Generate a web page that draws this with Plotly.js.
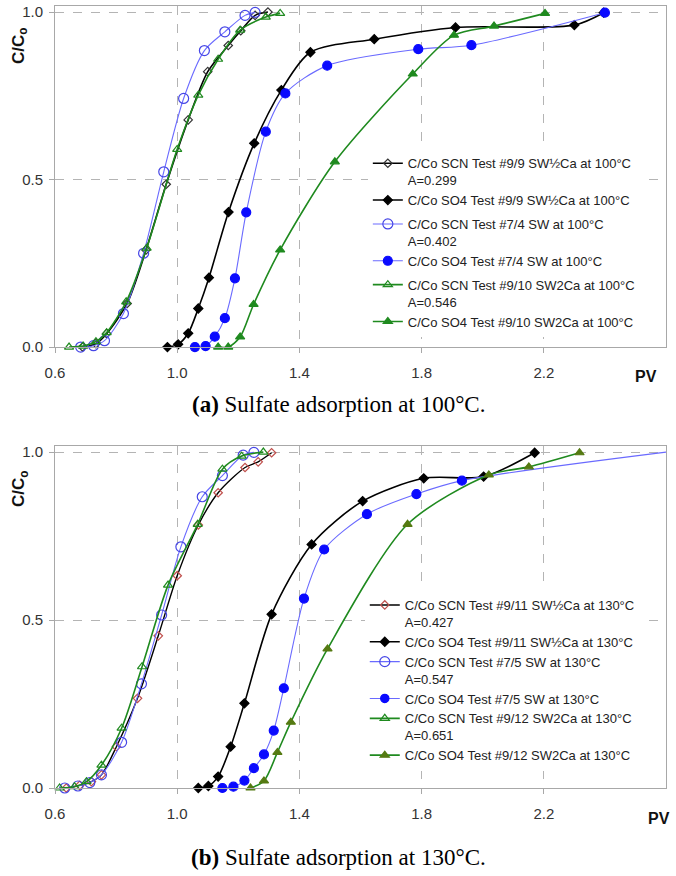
<!DOCTYPE html>
<html>
<head>
<meta charset="utf-8">
<script src="https://cdn.plot.ly/plotly-3.0.1.min.js"></script>
<style>html,body{margin:0;padding:0;background:#fff;}#chart{width:676px;height:876px;}</style>
</head>
<body>
<div id="chart"></div>
<script>
// ---------- Data: (a) 100°C ----------
var a_scn99_x = [0.69, 0.734, 0.769, 0.836, 0.898, 0.964, 1.036, 1.10, 1.167, 1.208, 1.255, 1.297];
var a_scn99_y = [0, 0.01, 0.04, 0.13, 0.29, 0.486, 0.678, 0.822, 0.90, 0.944, 0.99, 1.0];
var a_so499_x = [0.968, 1.003, 1.036, 1.069, 1.104, 1.168, 1.252, 1.341, 1.436, 1.645, 1.911, 2.30, 2.396];
var a_so499_y = [0, 0.008, 0.041, 0.115, 0.207, 0.403, 0.608, 0.767, 0.88, 0.919, 0.954, 0.961, 0.998];
var a_scn74_x = [0.684, 0.726, 0.762, 0.824, 0.89, 0.956, 1.021, 1.089, 1.156, 1.222, 1.255];
var a_scn74_y = [0, 0.004, 0.019, 0.10, 0.28, 0.523, 0.742, 0.885, 0.941, 0.99, 0.999];
var a_so474_x = [1.058, 1.093, 1.123, 1.156, 1.189, 1.226, 1.29, 1.354, 1.491, 1.789, 1.963, 2.40];
var a_so474_y = [0, 0.003, 0.031, 0.086, 0.205, 0.402, 0.643, 0.757, 0.84, 0.889, 0.901, 0.998];
var a_scn910_x = [0.646, 0.692, 0.734, 0.769, 0.833, 0.90, 1.0, 1.069, 1.134, 1.206, 1.29, 1.337];
var a_scn910_y = [0, 0.003, 0.016, 0.043, 0.135, 0.295, 0.59, 0.752, 0.859, 0.946, 0.985, 0.996];
var a_so4910_x = [1.134, 1.167, 1.206, 1.25, 1.337, 1.516, 1.771, 1.906, 2.037, 2.204];
var a_so4910_y = [0, 0, 0.03, 0.127, 0.29, 0.553, 0.815, 0.931, 0.958, 0.996];

// ---------- Data: (b) 130°C ----------
var b_scn911_x = [0.637, 0.681, 0.719, 0.752, 0.801, 0.87, 0.938, 1.0, 1.069, 1.134, 1.222, 1.265, 1.309];
var b_scn911_y = [0, 0.008, 0.019, 0.039, 0.123, 0.267, 0.453, 0.632, 0.783, 0.879, 0.954, 0.971, 0.998];
var b_so4911_x = [1.069, 1.102, 1.134, 1.175, 1.22, 1.309, 1.44, 1.607, 1.807, 2.003, 2.17];
var b_so4911_y = [0, 0.006, 0.034, 0.123, 0.252, 0.517, 0.725, 0.854, 0.922, 0.927, 0.998];
var b_scn75_x = [0.632, 0.675, 0.714, 0.752, 0.818, 0.883, 0.949, 1.012, 1.082, 1.148, 1.216, 1.251];
var b_scn75_y = [0, 0.006, 0.016, 0.039, 0.136, 0.31, 0.515, 0.718, 0.867, 0.93, 0.991, 0.999];
var b_so475_x = [1.148, 1.184, 1.22, 1.251, 1.284, 1.316, 1.349, 1.415, 1.481, 1.621, 1.783, 1.932, 2.6];
var b_so475_y = [0, 0.004, 0.022, 0.059, 0.10, 0.171, 0.297, 0.564, 0.71, 0.815, 0.875, 0.915, 1.0];
var b_scn912_x = [0.615, 0.664, 0.703, 0.752, 0.818, 0.885, 0.97, 1.067, 1.148, 1.211, 1.282];
var b_scn912_y = [0, 0.004, 0.019, 0.068, 0.178, 0.361, 0.604, 0.785, 0.949, 0.988, 1.0];
var b_so4912_x = [1.24, 1.284, 1.328, 1.372, 1.492, 1.754, 2.02, 2.151, 2.317];
var b_so4912_y = [0, 0.021, 0.106, 0.196, 0.414, 0.785, 0.932, 0.956, 0.998];

// ---------- Labels ----------
var a_names = [
  "C/Co SCN Test #9/9 SW½Ca at 100°C<br>A=0.299",
  "C/Co SO4 Test #9/9 SW½Ca at 100°C",
  "C/Co SCN Test #7/4 SW at 100°C<br>A=0.402",
  "C/Co SO4 Test #7/4 SW at 100°C",
  "C/Co SCN Test #9/10 SW2Ca at 100°C<br>A=0.546",
  "C/Co SO4 Test #9/10 SW2Ca at 100°C"
];
var b_names = [
  "C/Co SCN Test #9/11 SW½Ca at 130°C<br>A=0.427",
  "C/Co SO4 Test #9/11 SW½Ca at 130°C",
  "C/Co SCN Test #7/5 SW at 130°C<br>A=0.547",
  "C/Co SO4 Test #7/5 SW at 130°C",
  "C/Co SCN Test #9/12 SW2Ca at 130°C<br>A=0.651",
  "C/Co SO4 Test #9/12 SW2Ca at 130°C"
];
var xTickVals = [0.6, 1.0, 1.4, 1.8, 2.2];
var xTickText = ["0.6", "1.0", "1.4", "1.8", "2.2"];
var yTickVals = [0, 0.5, 1.0];
var yTickText = ["0.0", "0.5", "1.0"];
var captionA = "<b>(a)</b> Sulfate adsorption at 100°C.";
var captionB = "<b>(b)</b> Sulfate adsorption at 130°C.";

function tr(x, y, name, xa, ya, leg, grp, lineColor, lineW, sym, mColor, mSize, mFill) {
  return {
    x: x, y: y, name: name, xaxis: xa, yaxis: ya, legend: leg, legendgroup: grp,
    type: 'scatter', mode: 'lines+markers', cliponaxis: false,
    line: {color: lineColor, width: lineW, shape: 'spline', smoothing: 0.8},
    marker: {symbol: sym, size: mSize, color: mFill, opacity: 1,
             line: {color: mColor, width: 1.2}}
  };
}

var BLACK = '#000000', BLUEL = '#6a6aff', BLUE = '#0a0aff', BLUEO = '#4646e6';
var GREEN = '#1f8a1f', OLIVE = '#557a12', RED = '#c0504d';

var bSo475Sizes = b_so475_x.map(function (v, i) { return i === b_so475_x.length - 1 ? 0 : 9; });

var data = [
  tr(a_scn99_x, a_scn99_y, a_names[0], 'x', 'y', 'legend', 'a1', BLACK, 1.6, 'diamond-open', '#333333', 6.5, '#333333'),
  tr(a_so499_x, a_so499_y, a_names[1], 'x', 'y', 'legend', 'a1', BLACK, 1.6, 'diamond', BLACK, 7, BLACK),
  tr(a_scn74_x, a_scn74_y, a_names[2], 'x', 'y', 'legend', 'a2', BLUEL, 1.1, 'circle-open', BLUEO, 10, BLUEO),
  tr(a_so474_x, a_so474_y, a_names[3], 'x', 'y', 'legend', 'a2', BLUEL, 1.1, 'circle', BLUE, 9, BLUE),
  tr(a_scn910_x, a_scn910_y, a_names[4], 'x', 'y', 'legend', 'a3', GREEN, 1.6, 'triangle-up-open', GREEN, 8, GREEN),
  tr(a_so4910_x, a_so4910_y, a_names[5], 'x', 'y', 'legend', 'a3', GREEN, 1.6, 'triangle-up', GREEN, 8, GREEN),

  tr(b_scn911_x, b_scn911_y, b_names[0], 'x2', 'y2', 'legend2', 'b1', BLACK, 1.4, 'diamond-open', RED, 6.5, RED),
  tr(b_so4911_x, b_so4911_y, b_names[1], 'x2', 'y2', 'legend2', 'b1', BLACK, 1.6, 'diamond', BLACK, 7, BLACK),
  tr(b_scn75_x, b_scn75_y, b_names[2], 'x2', 'y2', 'legend2', 'b2', BLUEL, 1.1, 'circle-open', BLUEO, 10, BLUEO),
  tr(b_so475_x, b_so475_y, b_names[3], 'x2', 'y2', 'legend2', 'b2', BLUEL, 1.1, 'circle', BLUE, bSo475Sizes, BLUE),
  tr(b_scn912_x, b_scn912_y, b_names[4], 'x2', 'y2', 'legend2', 'b3', GREEN, 1.6, 'triangle-up-open', GREEN, 8, GREEN),
  tr(b_so4912_x, b_so4912_y, b_names[5], 'x2', 'y2', 'legend2', 'b3', GREEN, 1.6, 'triangle-up', OLIVE, 8, OLIVE)
];

var tickFont = {family: 'Liberation Sans, Arial, sans-serif', size: 15, color: '#333333'};
function xAxis(anchor) {
  return {
    anchor: anchor, domain: [0, 1], range: [0.6, 2.6],
    tickvals: xTickVals, ticktext: xTickText, tickfont: tickFont,
    showgrid: true, gridcolor: '#b4b4b4', griddash: 'dash', gridwidth: 1,
    showline: true, linecolor: '#a8a8a8', linewidth: 1, mirror: true,
    ticks: 'outside', ticklen: 5, tickcolor: '#a8a8a8',
    zeroline: false, ticklabelstandoff: 7
  };
}
function yAxis(anchor, dom) {
  return {
    anchor: anchor, domain: dom, range: [0, 1.018],
    tickvals: yTickVals, ticktext: yTickText, tickfont: tickFont,
    showgrid: true, gridcolor: '#b4b4b4', griddash: 'dash', gridwidth: 1,
    showline: true, linecolor: '#a8a8a8', linewidth: 1, mirror: true,
    ticks: 'outside', ticklen: 5, tickcolor: '#a8a8a8',
    zeroline: false, ticklabelstandoff: 3
  };
}
var legFont = {family: 'Liberation Sans, Arial, sans-serif', size: 13, color: '#222222'};

var layout = {
  width: 676, height: 876,
  margin: {l: 55, r: 10, t: 6, b: 88},
  paper_bgcolor: '#ffffff', plot_bgcolor: '#ffffff',
  showlegend: true,
  xaxis: xAxis('y'),
  yaxis: yAxis('x', [0.5639, 1]),
  xaxis2: xAxis('y2'),
  yaxis2: yAxis('x2', [0, 0.4373]),
  legend: {x: 0.512, y: 0.818, xanchor: 'left', yanchor: 'top', bgcolor: '#ffffff',
           borderwidth: 0, font: legFont, tracegroupgap: 4, valign: 'top'},
  legend2: {x: 0.507, y: 0.2532, xanchor: 'left', yanchor: 'top', bgcolor: '#ffffff',
            borderwidth: 0, font: legFont, tracegroupgap: 0, valign: 'top'},
  annotations: [
    {xref: 'paper', yref: 'paper', x: -0.0573, y: 0.950, text: '<b>C/C<sub>o</sub></b>', textangle: -90,
     showarrow: false, xanchor: 'center', yanchor: 'middle',
     font: {family: 'Liberation Sans, Arial, sans-serif', size: 17, color: '#111111'}},
    {xref: 'paper', yref: 'paper', x: -0.0573, y: 0.3836, text: '<b>C/C<sub>o</sub></b>', textangle: -90,
     showarrow: false, xanchor: 'center', yanchor: 'middle',
     font: {family: 'Liberation Sans, Arial, sans-serif', size: 17, color: '#111111'}},
    {xref: 'paper', yref: 'paper', x: 0.967, y: 0.5256, text: '<b>PV</b>', showarrow: false,
     xanchor: 'center', yanchor: 'middle',
     font: {family: 'Liberation Sans, Arial, sans-serif', size: 16, color: '#111111'}},
    {xref: 'paper', yref: 'paper', x: 0.9885, y: -0.0396, text: '<b>PV</b>', showarrow: false,
     xanchor: 'center', yanchor: 'middle',
     font: {family: 'Liberation Sans, Arial, sans-serif', size: 16, color: '#111111'}},
    {xref: 'paper', yref: 'paper', x: 0.4648, y: 0.4898, text: captionA, showarrow: false,
     xanchor: 'center', yanchor: 'middle',
     font: {family: 'Liberation Serif, Times New Roman, serif', size: 23, color: '#000000'}},
    {xref: 'paper', yref: 'paper', x: 0.4648, y: -0.0895, text: captionB, showarrow: false,
     xanchor: 'center', yanchor: 'middle',
     font: {family: 'Liberation Serif, Times New Roman, serif', size: 23, color: '#000000'}}
  ]
};

Plotly.newPlot('chart', data, layout, {displayModeBar: false, staticPlot: true});
</script>
</body>
</html>
